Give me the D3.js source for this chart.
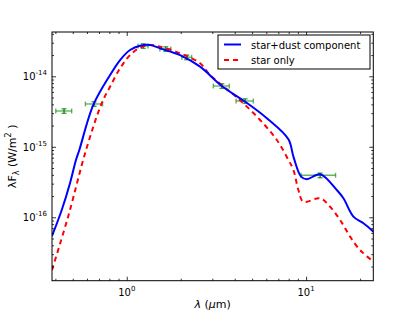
<!DOCTYPE html>
<html>
<head>
<meta charset="utf-8">
<script src="https://cdnjs.cloudflare.com/ajax/libs/d3/7.8.5/d3.min.js"></script>
<style>
body { margin: 0; background: #fff; }
svg { display: block; font-family: "DejaVu Sans", sans-serif; }
</style>
</head>
<body>
<script>
// model SED, star + dust component
var wlDust = [0.383, 0.434, 0.483, 0.521, 0.544, 0.651, 0.807, 0.918, 1.043, 1.186, 1.349, 1.533,
              1.983, 2.564, 3.388, 4.57, 6.04, 7.97, 8.50, 9.38, 10.09, 11.97, 14.83, 16.15,
              18.36, 20.88, 23.74];
var fDust = [5.43e-17, 1.27e-16, 3.07e-16, 6.50e-16, 9.02e-16, 3.92e-15, 1.04e-14, 1.70e-14, 2.36e-14,
             2.72e-14, 2.78e-14, 2.49e-14, 2.00e-14, 1.37e-14, 7.28e-15, 4.36e-15, 2.54e-15, 1.28e-15,
             7.24e-16, 3.77e-16, 3.46e-16, 4.07e-16, 2.44e-16, 1.86e-16, 1.02e-16, 8.22e-17, 6.25e-17];

// model SED, star only
var wlStar = [0.383, 0.471, 0.593, 0.725, 0.807, 0.918, 1.043, 1.186, 1.349, 1.533, 1.983, 2.564,
              2.915, 3.77, 4.47, 5.54, 6.87, 7.97, 8.50, 9.06, 9.66, 11.97, 13.61, 15.48, 17.60,
              19.58, 20.88, 23.74];
var fStar = [1.79e-17, 1.02e-16, 9.02e-16, 4.14e-15, 7.12e-15, 1.30e-14, 2.00e-14, 2.55e-14, 2.78e-14,
             2.63e-14, 2.12e-14, 1.53e-14, 1.04e-14, 6.05e-15, 4.14e-15, 2.40e-15, 1.25e-15, 6.50e-16,
             4.69e-16, 2.44e-16, 1.66e-16, 1.86e-16, 1.41e-16, 9.16e-17, 5.31e-17, 3.63e-17,
             3.08e-17, 2.34e-17];

// photometry
var wlObs = [0.447, 0.657, 1.237, 1.65, 2.16, 3.39, 4.57, 11.97];
var wlLo  = [0.402, 0.588, 1.156, 1.53, 2.03, 3.04, 4.07, 9.38];
var wlHi  = [0.493, 0.733, 1.315, 1.76, 2.30, 3.73, 5.08, 14.6];
var fObs  = [3.22e-15, 4.05e-15, 2.69e-14, 2.44e-14, 1.86e-14, 7.28e-15, 4.46e-15, 3.94e-16];
var fErr  = [2.4e-16, 3.0e-16, 2.0e-15, 1.8e-15, 1.4e-15, 5.5e-16, 3.3e-16, 3.0e-17];

var legendLabels = ["star+dust component", "star only"];

var W = 415, H = 312;
var L = 52, R = 373.3, T = 32, B = 280.7;

var svg = d3.select("body").append("svg")
    .attr("width", W)
    .attr("height", H);

var x = d3.scaleLog().domain([0.383, 23.7]).range([L, R]);
var y = d3.scaleLog().domain([1.26e-17, 4.25e-14]).range([B, T]);

function mant(v) { return Math.round(v / Math.pow(10, Math.floor(Math.log10(v) + 1e-9))); }
var xMajor = x.ticks().filter(function(v){ return mant(v) == 1; });
var xMinor = x.ticks().filter(function(v){ return mant(v) != 1; });
var yMajor = y.ticks().filter(function(v){ return mant(v) == 1; });
var yMinor = y.ticks().filter(function(v){ return mant(v) != 1; });

svg.append("clipPath").attr("id", "clip")
  .append("rect").attr("x", L).attr("y", T).attr("width", R - L).attr("height", B - T);

// error bars
var eb = svg.append("g").attr("stroke", "#008000").attr("stroke-width", 1.4).attr("fill", "none");
wlObs.forEach(function(w, i) {
    var cy = y(fObs[i]), cx = x(w);
    var g = eb.append("g");
    g.append("line").attr("x1", x(wlLo[i])).attr("x2", x(wlHi[i])).attr("y1", cy).attr("y2", cy)
        .attr("stroke-opacity", 0.6);
    g.append("line").attr("x1", x(wlLo[i])).attr("x2", x(wlLo[i])).attr("y1", cy - 2.5).attr("y2", cy + 2.5)
        .attr("stroke-opacity", 0.6);
    g.append("line").attr("x1", x(wlHi[i])).attr("x2", x(wlHi[i])).attr("y1", cy - 2.5).attr("y2", cy + 2.5)
        .attr("stroke-opacity", 0.6);
    g.append("line").attr("x1", cx).attr("x2", cx).attr("y1", y(fObs[i] - fErr[i])).attr("y2", y(fObs[i] + fErr[i]))
        .attr("stroke-opacity", 0.9);
    [fObs[i] - fErr[i], fObs[i] + fErr[i]].forEach(function(f) {
        g.append("line").attr("x1", cx - 2.5).attr("x2", cx + 2.5).attr("y1", y(f)).attr("y2", y(f))
            .attr("stroke-opacity", 0.7);
    });
});

var line = d3.line()
    .x(function(d){ return x(d[0]); })
    .y(function(d){ return y(d[1]); })
    .curve(d3.curveCatmullRom);

var curves = svg.append("g").attr("clip-path", "url(#clip)");
curves.append("path")
    .datum(d3.zip(wlStar, fStar))
    .attr("d", line)
    .attr("fill", "none").attr("stroke", "#ff0000").attr("stroke-width", 2)
    .attr("stroke-dasharray", "5,4");
curves.append("path")
    .datum(d3.zip(wlDust, fDust))
    .attr("d", line)
    .attr("fill", "none").attr("stroke", "#0000ff").attr("stroke-width", 2);

// ticks on all four sides, pointing inwards
function ticks(axis, pos, vals, len) {
    svg.append("g").attr("transform", pos)
        .call(axis.tickValues(vals).tickSizeInner(-len).tickSizeOuter(0).tickFormat(""))
        .call(function(g){ g.select(".domain").remove(); g.selectAll("line").attr("stroke", "#000").attr("stroke-width", 0.8); });
}
ticks(d3.axisBottom(x), "translate(0," + B + ")", xMajor, 4);
ticks(d3.axisBottom(x), "translate(0," + B + ")", xMinor, 2);
ticks(d3.axisTop(x), "translate(0," + T + ")", xMajor, 4);
ticks(d3.axisTop(x), "translate(0," + T + ")", xMinor, 2);
ticks(d3.axisLeft(y), "translate(" + L + ",0)", yMajor, 4);
ticks(d3.axisLeft(y), "translate(" + L + ",0)", yMinor, 2);
ticks(d3.axisRight(y), "translate(" + R + ",0)", yMajor, 4);
ticks(d3.axisRight(y), "translate(" + R + ",0)", yMinor, 2);

svg.append("rect").attr("x", L).attr("y", T).attr("width", R - L).attr("height", B - T)
    .attr("fill", "none").attr("stroke", "#000").attr("stroke-width", 1);

// tick labels as 10^n
function expo(v) { return Math.round(Math.log10(v)); }
xMajor.forEach(function(v) {
    var t = svg.append("text").attr("x", x(v)).attr("y", 296).attr("text-anchor", "middle")
        .attr("font-size", 10).text("10");
    t.append("tspan").attr("dy", -5).attr("font-size", 7).text(expo(v));
});
yMajor.forEach(function(v) {
    var t = svg.append("text").attr("x", 47).attr("y", y(v) + 4).attr("text-anchor", "end")
        .attr("font-size", 10).text("10");
    t.append("tspan").attr("dy", -5).attr("font-size", 7).text(expo(v));
});

// axis titles
var xt = svg.append("text").attr("x", (L + R) / 2).attr("y", 308).attr("text-anchor", "middle")
    .attr("font-size", 11);
xt.append("tspan").attr("font-style", "italic").text("λ");
xt.append("tspan").text(" (");
xt.append("tspan").attr("font-style", "italic").text("μ");
xt.append("tspan").text("m)");

var yt = svg.append("text").attr("transform", "translate(16," + ((T + B) / 2) + ") rotate(-90)")
    .attr("text-anchor", "middle").attr("font-size", 11);
yt.append("tspan").text("λF");
yt.append("tspan").attr("dy", 3).attr("font-size", 8).text("λ");
yt.append("tspan").attr("dy", -3).text(" (W/m");
yt.append("tspan").attr("dy", -5).attr("font-size", 8).text("2");
yt.append("tspan").attr("dy", 5).text(" )");

// legend
var lg = svg.append("g");
lg.append("rect").attr("x", 218).attr("y", 35).attr("width", 152).attr("height", 34)
    .attr("fill", "#fff").attr("stroke", "#000").attr("stroke-width", 1);
var legendStyles = [{c: "#0000ff", d: null}, {c: "#ff0000", d: "5,4"}];
legendLabels.forEach(function(s, i) {
    var ly = 44.5 + i * 15.5;
    lg.append("line").attr("x1", 224).attr("x2", 241).attr("y1", ly).attr("y2", ly)
        .attr("stroke", legendStyles[i].c).attr("stroke-width", 2)
        .attr("stroke-dasharray", legendStyles[i].d);
    lg.append("text").attr("x", 251).attr("y", ly + 4).attr("font-size", 10).text(s);
});
</script>
</body>
</html>
